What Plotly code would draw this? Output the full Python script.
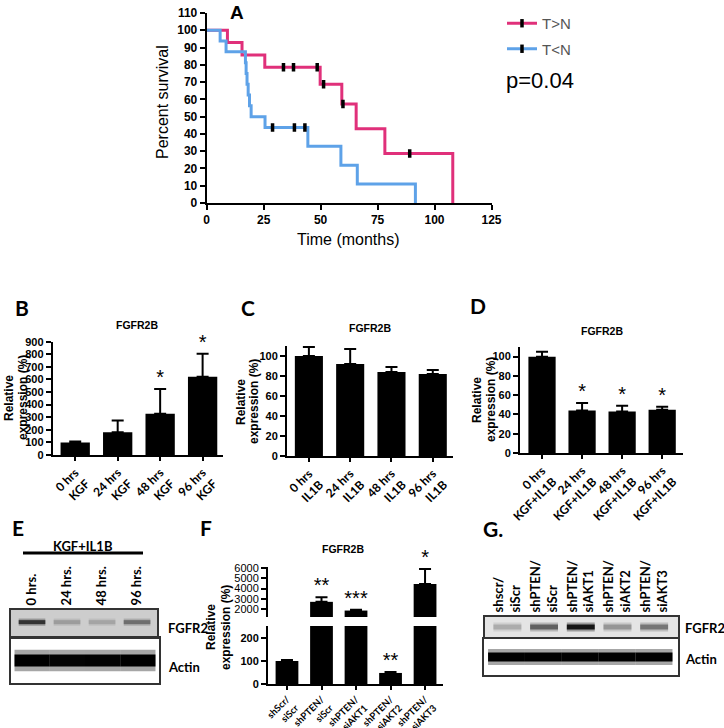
import plotly.graph_objects as go

W, H = 724, 728
def fx(p): return p / W
def fy(p): return 1 - p / H

PINK = '#e0307a'
BLUE = '#5ea2e8'
AR = 'Liberation Sans'
CAL = 'Lato'

# ---------------- Panel A: Kaplan-Meier ----------------
gt_times = [0, 9.1, 15.5, 25.5, 49.8, 59.3, 65.6, 78.2, 108]
gt_surv = [100, 92.86, 85.71, 78.57, 68.75, 57.29, 42.97, 28.65, 0]
gt_cens_t = [33.7, 38.1, 48.5, 51.3, 59.8, 89.1]
gt_cens_s = [78.57, 78.57, 78.57, 68.75, 57.29, 28.65]

lt_times = [0, 5.9, 8.5, 17.0, 17.3, 17.7, 18.2, 18.8, 19.5, 25.6, 44.4, 58.9, 66.1, 91.6]
lt_surv = [100, 93.75, 87.5, 81.25, 75, 68.75, 62.5, 56.25, 50, 43.75, 32.81, 21.88, 10.94, 0]
lt_cens_t = [28.9, 38.5, 43.1]
lt_cens_s = [43.75, 43.75, 43.75]

# ---------------- Panel B ----------------
b_cats = ['0 hrs<br>KGF', '24 hrs<br>KGF', '48 hrs<br>KGF', '96 hrs<br>KGF']
b_vals = [100, 180, 328, 622]
b_err = [8, 95, 196, 182]
b_star = ['', '', '*', '*']

# ---------------- Panel C ----------------
c_cats = ['0 hrs<br>IL1B', '24 hrs<br>IL1B', '48 hrs<br>IL1B', '96 hrs<br>IL1B']
c_vals = [100, 92, 84, 82]
c_err = [9, 15, 5, 4]

# ---------------- Panel D ----------------
d_cats = ['0 hrs<br>KGF+IL1B', '24 hrs<br>KGF+IL1B', '48 hrs<br>KGF+IL1B', '96 hrs<br>KGF+IL1B']
d_vals = [100, 44, 43, 45]
d_err = [5, 8, 6, 3]
d_star = ['', '*', '*', '*']

# ---------------- Panel F ----------------
f_cats = ['shScr/<br>siScr', 'shPTEN/<br>siScr', 'shPTEN/<br>siAKT1', 'shPTEN/<br>siAKT2', 'shPTEN/<br>siAKT3']
f_vals = [100, 2700, 1850, 48, 4450]
f_err = [4, 450, 80, 4, 1450]
f_star = ['', '**', '***', '**', '*']

# ---------------- Blots (relative band intensity) ----------------
e_lanes = ['0 hrs.', '24 hrs.', '48 hrs.', '96 hrs.']
e_fgfr2 = [0.75, 0.22, 0.18, 0.45]
e_actin = [1.0, 0.95, 0.97, 1.0]
g_lanes = ['shscr/<br>siScr', 'shPTEN/<br>siScr', 'shPTEN/<br>siAKT1', 'shPTEN/<br>siAKT2', 'shPTEN/<br>siAKT3']
g_fgfr2 = [0.2, 0.55, 0.9, 0.3, 0.45]
g_actin = [1.0, 1.0, 0.95, 1.0, 1.0]

fig = go.Figure()

# ---- A traces
fig.add_trace(go.Scatter(x=gt_times, y=gt_surv, mode='lines', line=dict(color=PINK, width=3, shape='hv'),
                         showlegend=False, xaxis='x', yaxis='y'))
fig.add_trace(go.Scatter(x=lt_times, y=lt_surv, mode='lines', line=dict(color=BLUE, width=3, shape='hv'),
                         showlegend=False, xaxis='x', yaxis='y'))
cens_marker = dict(symbol='line-ns-open', size=6, color='black', line=dict(color='black', width=3.5))
fig.add_trace(go.Scatter(x=gt_cens_t, y=gt_cens_s, mode='markers', marker=cens_marker, showlegend=False,
                         xaxis='x', yaxis='y'))
fig.add_trace(go.Scatter(x=lt_cens_t, y=lt_cens_s, mode='markers', marker=cens_marker, showlegend=False,
                         xaxis='x', yaxis='y'))
fig.add_trace(go.Scatter(x=[None], y=[None], mode='lines+markers', name='T>N', legendgroup='g1',
                         line=dict(color=PINK, width=3), marker=cens_marker, xaxis='x', yaxis='y'))
fig.add_trace(go.Scatter(x=[None], y=[None], mode='lines+markers', name='T<N', legendgroup='g2',
                         line=dict(color=BLUE, width=3), marker=cens_marker, xaxis='x', yaxis='y'))

# ---- bar helper
def bars(cats, vals, errs, xa, ya, width):
    fig.add_trace(go.Bar(x=cats, y=vals, width=width, marker=dict(color='black', line=dict(width=0)),
                         error_y=dict(type='data', symmetric=False, array=errs, arrayminus=[0] * len(errs),
                                      color='black', thickness=2, width=6),
                         showlegend=False, xaxis=xa, yaxis=ya))

def stars(cats, tops, marks, xa, ya):
    fig.add_trace(go.Scatter(x=cats, y=tops, mode='text', text=marks, textposition='top center',
                             textfont=dict(family=AR, size=20, color='black'), cliponaxis=False,
                             showlegend=False, xaxis=xa, yaxis=ya))

bars(b_cats, b_vals, b_err, 'x2', 'y2', 0.69)
stars(b_cats, [v + e for v, e in zip(b_vals, b_err)], b_star, 'x2', 'y2')
bars(c_cats, c_vals, c_err, 'x3', 'y3', 0.68)
bars(d_cats, d_vals, d_err, 'x4', 'y4', 0.68)
stars(d_cats, [v + e for v, e in zip(d_vals, d_err)], d_star, 'x4', 'y4')

# F broken axis: lower (x5,y5) and upper (x6,y6)
bars(f_cats, f_vals, f_err, 'x5', 'y5', 0.66)
bars(f_cats, f_vals, f_err, 'x6', 'y6', 0.66)
f_tops = [v + e for v, e in zip(f_vals, f_err)]
stars([c for c, t in zip(f_cats, f_tops) if t < 1000], [t for t in f_tops if t < 1000],
      [s for s, t in zip(f_star, f_tops) if t < 1000], 'x5', 'y5')
stars([c for c, t in zip(f_cats, f_tops) if t >= 1000], [t for t in f_tops if t >= 1000],
      [s for s, t in zip(f_star, f_tops) if t >= 1000], 'x6', 'y6')

# ---- blots
def blot(lanes, inten, xa, ya, yc, thick, base, merge=False):
    for i, v in enumerate(inten):
        g = int(base - v * base)
        half = 0.5 if merge else 0.38
        fig.add_trace(go.Scatter(x=[i - half, i + half], y=[yc, yc], mode='lines',
                                 line=dict(color='rgba(%d,%d,%d,0.35)' % (g, g, g), width=thick * 1.8),
                                 showlegend=False, hoverinfo='skip', xaxis=xa, yaxis=ya))
        fig.add_trace(go.Scatter(x=[i - half, i + half], y=[yc, yc], mode='lines',
                                 line=dict(color='rgb(%d,%d,%d)' % (g, g, g), width=thick),
                                 showlegend=False, hoverinfo='skip', xaxis=xa, yaxis=ya))

blot(e_lanes, e_fgfr2, 'x7', 'y7', 0.55, 4, 200)
blot(e_lanes, e_actin, 'x8', 'y8', 0.5, 12, 60, merge=True)
blot(g_lanes, g_fgfr2, 'x9', 'y9', 0.5, 5, 215)
blot(g_lanes, g_actin, 'x10', 'y10', 0.5, 9, 50, merge=True)

# ---------------- layout ----------------
tickf = dict(family=AR, size=11, color='black')
xtickf = dict(family=CAL, size=12, color='black')

def yax(domain, rng, dtick, anchor, **kw):
    d = dict(domain=[fy(domain[0]), fy(domain[1])], range=rng, dtick=dtick, anchor=anchor,
             showline=True, linecolor='black', linewidth=2, ticks='outside', ticklen=5, tickwidth=2,
             tickcolor='black', showgrid=False, zeroline=False, tickfont=tickf, tickprefix='<b>',
             ticksuffix='</b>', automargin=False)
    d.update(kw)
    return d

def xcat(domain, rng, anchor, **kw):
    d = dict(domain=[fx(domain[0]), fx(domain[1])], range=rng, anchor=anchor, type='category',
             showline=True, linecolor='black', linewidth=2, ticks='outside', ticklen=4, tickwidth=2,
             tickcolor='black', showgrid=False, zeroline=False, tickangle=-45, tickfont=xtickf,
             tickprefix='<b>', ticksuffix='</b>', automargin=False)
    d.update(kw)
    return d

def blotx(domain, rng, anchor, lanes=None):
    d = dict(domain=[fx(domain[0]), fx(domain[1])], range=rng, anchor=anchor, showgrid=False,
             zeroline=False, showline=True, mirror=True, linecolor='#333', linewidth=2, ticks='',
             automargin=False)
    if lanes is not None:
        d.update(side='top', tickmode='array', tickvals=list(range(len(lanes))),
                 ticktext=['<b>%s</b>' % l.replace('<br>', '</b><br><b>') for l in lanes],
                 tickangle=-90, tickfont=dict(family=CAL, size=13, color='black'), showticklabels=True)
    else:
        d.update(showticklabels=False)
    return d

def bloty(domain, anchor):
    return dict(domain=[fy(domain[0]), fy(domain[1])], range=[0, 1], anchor=anchor, showgrid=False,
                zeroline=False, showline=True, mirror=True, linecolor='#333', linewidth=2,
                showticklabels=False, ticks='', automargin=False)

layout = dict(
    width=W, height=H, autosize=False, margin=dict(l=0, r=0, t=0, b=0, pad=0, autoexpand=False),
    paper_bgcolor='white', plot_bgcolor='rgba(0,0,0,0)', bargap=0.3,
    showlegend=True,
    legend=dict(x=fx(502), y=fy(7), xanchor='left', yanchor='top',
                font=dict(family=AR, size=15, color='#555'), bgcolor='rgba(0,0,0,0)',
                itemwidth=30, tracegroupgap=3),
    # A
    xaxis=dict(domain=[fx(206.7), fx(491.5)], range=[0, 125], dtick=25, anchor='y', showline=True,
               linecolor='black', linewidth=2, ticks='outside', ticklen=5, tickwidth=2, tickcolor='black',
               showgrid=False, zeroline=False, tickfont=dict(family=AR, size=12, color='black'),
               tickprefix='<b>', ticksuffix='</b>', automargin=False),
    yaxis=yax((203, 13), [0, 110], 10, 'x', tickfont=dict(family=AR, size=12, color='black')),
    # B
    xaxis2=xcat((52.7, 223), [-0.53, 3.48], 'y2'),
    yaxis2=yax((455, 341.7), [0, 900], 100, 'x2'),
    # C
    xaxis3=xcat((287, 453), [-0.53, 3.49], 'y3'),
    yaxis3=yax((456, 346), [0, 110], 20, 'x3'),
    # D
    xaxis4=xcat((520, 683), [-0.55, 3.52], 'y4'),
    yaxis4=yax((453, 347), [0, 110], 20, 'x4'),
    # F lower
    xaxis5=xcat((268, 443), [-0.55, 4.52], 'y5', tickfont=dict(family=CAL, size=9.5, color='black')),
    yaxis5=yax((684, 626), [0, 252], 100, 'x5'),
    # F upper
    xaxis6=dict(domain=[fx(268), fx(443)], range=[-0.55, 4.52], anchor='y6', type='category',
                visible=False, automargin=False),
    yaxis6=yax((617, 567), [1220, 6100], 1000, 'x6', tickmode='array',
               tickvals=[2000, 3000, 4000, 5000, 6000]),
    # E blots
    xaxis7=blotx((11, 157), [-0.6, 3.57], 'y7', e_lanes),
    yaxis7=bloty((637, 610), 'x7'),
    xaxis8=blotx((11, 159), [-0.6, 3.6], 'y8'),
    yaxis8=bloty((683, 638), 'x8'),
    # G blots
    xaxis9=blotx((485, 678), [-0.61, 4.65], 'y9', g_lanes),
    yaxis9=bloty((637, 617), 'x9'),
    xaxis10=blotx((484, 678), [-0.61, 4.65], 'y10'),
    yaxis10=bloty((675, 639), 'x10'),
)
fig.update_layout(**layout)

fig.add_shape(type='rect', xref='x7 domain', yref='y7 domain', x0=0, x1=1, y0=0, y1=1,
              fillcolor='#cdcdcd', line=dict(width=0), layer='below')
fig.add_shape(type='rect', xref='x9 domain', yref='y9 domain', x0=0, x1=1, y0=0, y1=1,
              fillcolor='#e4e4e4', line=dict(width=0), layer='below')
fig.add_shape(type='line', xref='paper', yref='paper', x0=fx(23), x1=fx(143), y0=fy(553), y1=fy(553),
              line=dict(color='black', width=3))

ann = []
def text(x, y, s, size, family=AR, bold=True, angle=0, color='black', xanchor='center'):
    ann.append(dict(x=fx(x), y=fy(y), xref='paper', yref='paper', text=('<b>%s</b>' % s) if bold else s,
                    showarrow=False, font=dict(family=family, size=size, color=color), textangle=angle,
                    xanchor=xanchor, yanchor='middle'))

text(237, 12, 'A', 19)
text(22, 307, 'B', 21, CAL)
text(248, 307, 'C', 21, CAL)
text(478, 305, 'D', 21, CAL)
text(18, 527, 'E', 21, CAL)
text(206, 527, 'F', 21, CAL)
text(493, 528, 'G.', 21, CAL)

text(163, 102, 'Percent survival', 16, bold=False, angle=-90)
text(348, 240, 'Time (months)', 16, bold=False)
text(504, 80, 'p=0.04', 22, bold=False, xanchor='left')

text(137, 325, 'FGFR2B', 10.5)
text(370, 328, 'FGFR2B', 10.5)
text(602, 331, 'FGFR2B', 10.5)
text(343, 549, 'FGFR2B', 10.5)

for (x1, x2, yc) in [(9, 23, 398), (241, 254, 402), (477, 491, 400), (211, 226, 627)]:
    text(x1, yc, 'Relative', 12, angle=-90)
    text(x2, yc, 'expression (%)', 12, angle=-90)

text(83, 546, 'KGF+IL1B', 13, CAL)
text(166, 628, 'FGFR2', 13, CAL, xanchor='left')
text(166, 667, 'Actin', 13, CAL, xanchor='left')
text(683, 628, 'FGFR2', 13, CAL, xanchor='left')
text(683, 659, 'Actin', 13, CAL, xanchor='left')

fig.update_layout(annotations=ann)
fig.write_html('out.html', config={'displayModeBar': False},
               post_script="document.body.style.margin='0px';")
